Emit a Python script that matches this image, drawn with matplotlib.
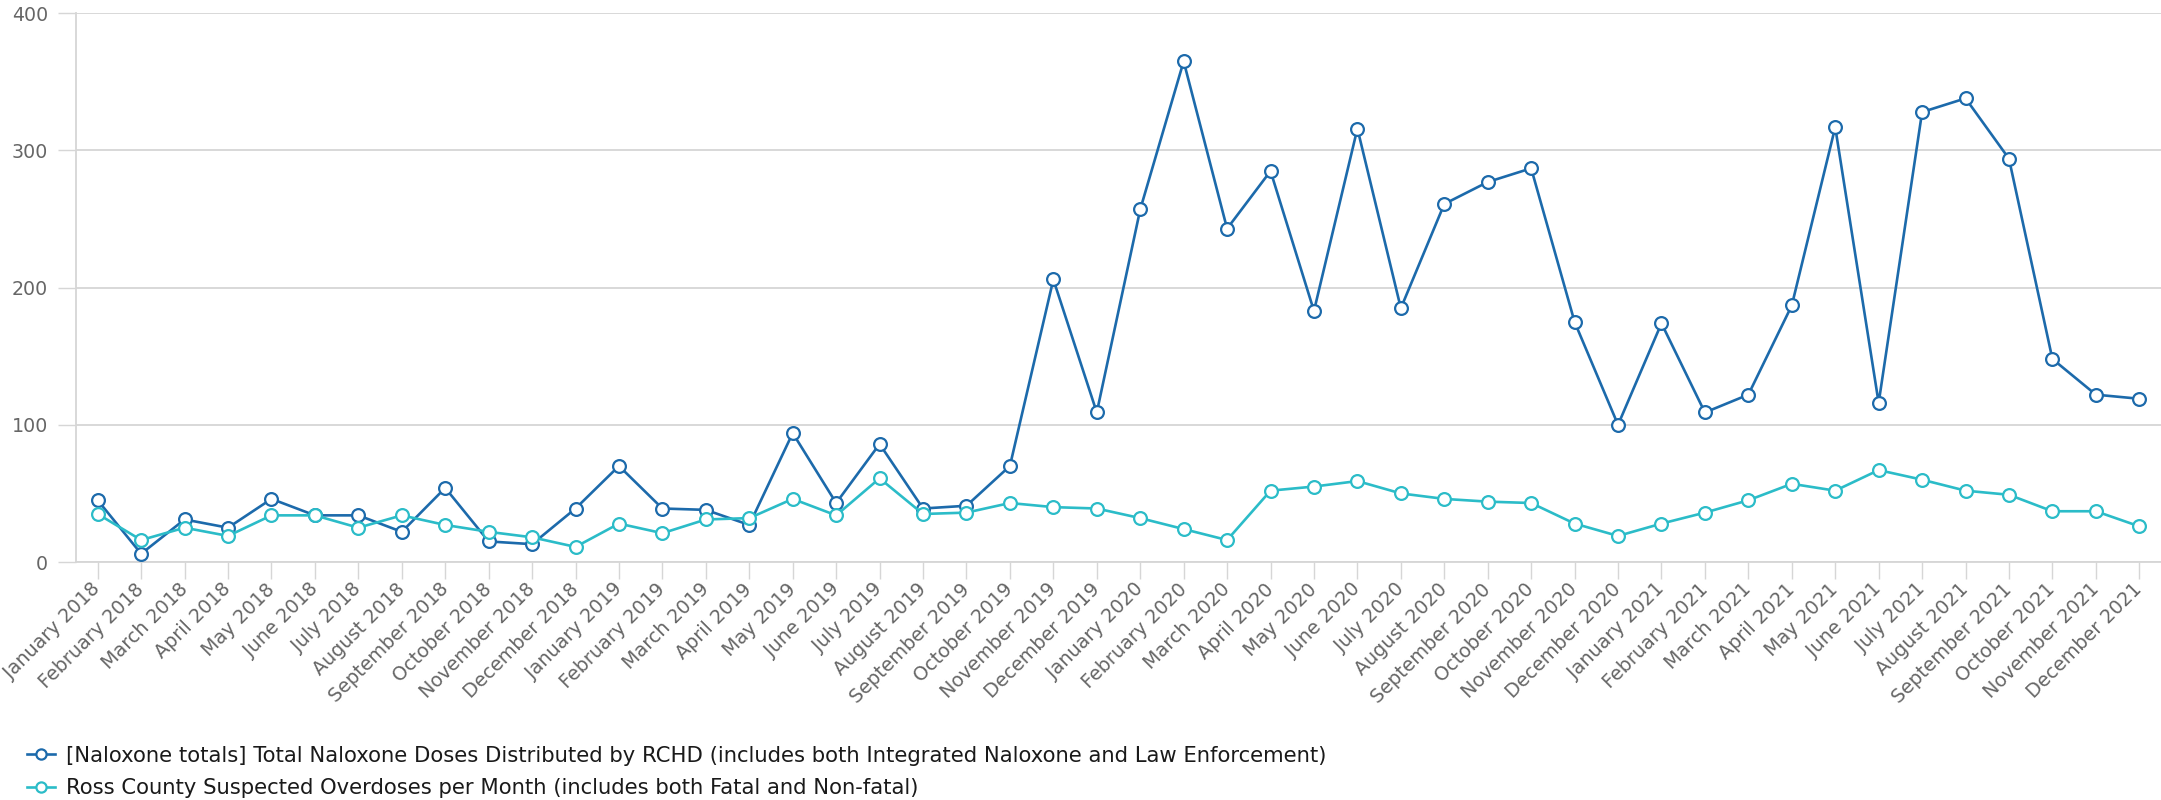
import matplotlib
matplotlib.use("Agg")
import matplotlib.pyplot as plt
from matplotlib.ticker import FixedLocator

months = ["January", "February", "March", "April", "May", "June", "July",
          "August", "September", "October", "November", "December"]
years = [2018, 2019, 2020, 2021]
categories = [f"{m} {y}" for y in years for m in months]

naloxone = [45, 6, 31, 25, 46, 34, 34, 22, 54, 15, 13, 39,
            70, 39, 38, 27, 94, 43, 86, 39, 41, 70, 206, 109,
            257, 365, 243, 285, 183, 316, 185, 261, 277, 287, 175, 100,
            174, 109, 122, 187, 317, 116, 328, 338, 294, 148, 122, 119]

overdoses = [35, 16, 25, 19, 34, 34, 25, 34, 27, 22, 18, 11,
             28, 21, 31, 32, 46, 34, 61, 35, 36, 43, 40, 39,
             32, 24, 16, 52, 55, 59, 50, 46, 44, 43, 28, 19,
             28, 36, 45, 57, 52, 67, 60, 52, 49, 37, 37, 26]

series_labels = [
    "[Naloxone totals] Total Naloxone Doses Distributed by RCHD (includes both Integrated Naloxone and Law Enforcement)",
    "Ross County Suspected Overdoses per Month (includes both Fatal and Non-fatal)",
]
y_ticks = [0, 100, 200, 300, 400]

dark = "#1c6aab"
cyan = "#2bbcc8"
grid_c = "#d6d6d6"
label_c = "#666666"

plt.rcParams['font.family'] = ['DejaVu Sans']

W, H = 2161, 800
fig = plt.figure(figsize=(W / 100, H / 100), dpi=100)
left, right, top, bottom = 76, 2161, 13.3, 562
ax = fig.add_axes([left / W, 1 - bottom / H, (right - left) / W, (bottom - top) / H])

x = list(range(len(categories)))
for vals, col, lab in [(naloxone, dark, series_labels[0]), (overdoses, cyan, series_labels[1])]:
    ax.plot(x, vals, color=col, lw=1.9, marker='o', ms=9.2, mfc='white',
            mec=col, mew=1.6, label=lab, clip_on=False, zorder=3)

ax.set_xlim(-0.5, len(categories) - 0.5)
ax.set_ylim(0, 400)
ax.yaxis.set_major_locator(FixedLocator(y_ticks))
ax.set_yticklabels([str(v) for v in y_ticks])
ax.grid(axis='y', color=grid_c, lw=1.3, zorder=0)
ax.set_axisbelow(True)

for s in ['top', 'right']:
    ax.spines[s].set_visible(False)
ax.spines['left'].set_color(grid_c)
ax.spines['left'].set_linewidth(1.3)
ax.spines['bottom'].set_color(grid_c)
ax.spines['bottom'].set_linewidth(1.3)

ax.tick_params(axis='y', length=13, width=1.0, color=grid_c, pad=7,
               labelsize=13.7, labelcolor=label_c)
ax.set_xticks(x)
ax.set_xticklabels(categories, rotation=45, ha='right', va='center',
                   rotation_mode='anchor')
ax.tick_params(axis='x', length=12.5, width=1.0, color=grid_c, pad=5,
               labelsize=13.8, labelcolor=label_c)

leg = fig.legend(loc='lower left', bbox_to_anchor=(13 / W, -0.015), frameon=False,
                 fontsize=15.2, labelcolor='#1a1a1a', handlelength=1.35,
                 handletextpad=0.5, labelspacing=0.6, borderaxespad=0.25,
                 markerscale=0.8)

fig.savefig("out.png", dpi=100, facecolor='white')
